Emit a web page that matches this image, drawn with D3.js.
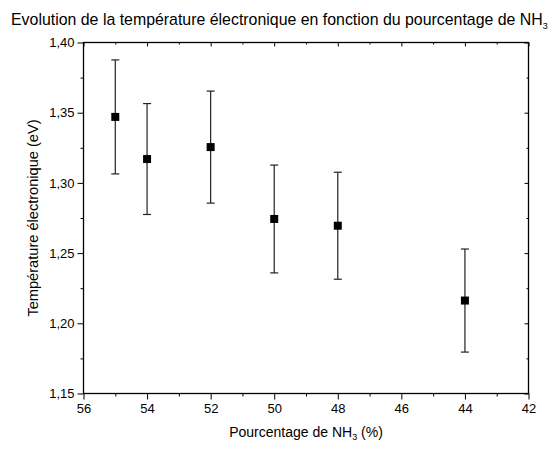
<!DOCTYPE html>
<html>
<head>
<meta charset="utf-8">
<script src="https://cdn.jsdelivr.net/npm/d3@7"></script>
<style>
  html, body { margin: 0; padding: 0; background: #fff; }
  svg { display: block; font-family: "Liberation Sans", Arial, sans-serif; }
</style>
</head>
<body>
<svg id="chart" width="559" height="450"></svg>
<script>
// Pourcentage de NH3 (%) and mean electron temperature (eV) with error bars
const nh3Percent = [55, 54, 52, 50, 48, 44];
const electronTemp = [1.347, 1.317, 1.3255, 1.2743, 1.2695, 1.2162];
const tempError = [0.0406, 0.0395, 0.0399, 0.0384, 0.0381, 0.0367];

const xTicks = [56, 54, 52, 50, 48, 46, 44, 42];
const yTicks = [1.15, 1.20, 1.25, 1.30, 1.35, 1.40];
const xMinorTicks = [55, 53, 51, 49, 47, 45, 43];
const yMinorTicks = [1.175, 1.225, 1.275, 1.325, 1.375];

const svg = d3.select("#chart");
const plotLeft = 83.5, plotRight = 528.5, plotTop = 42.5, plotBottom = 393.5;

const x = d3.scaleLinear().domain([56, 42]).range([plotLeft, plotRight]);
const y = d3.scaleLinear().domain([1.15, 1.40]).range([plotBottom, plotTop]);

const fmt = d => d3.format(".2f")(d).replace(".", ",");

// Frame
svg.append("rect")
  .attr("x", plotLeft).attr("y", plotTop)
  .attr("width", plotRight - plotLeft).attr("height", plotBottom - plotTop)
  .attr("fill", "none").attr("stroke", "#000").attr("stroke-width", 1.3);

// Bottom axis (outward ticks)
const xAxis = svg.append("g").attr("transform", `translate(0,${plotBottom})`)
  .call(d3.axisBottom(x).tickValues(xTicks).tickFormat(d3.format("d")).tickSize(6).tickPadding(4));
xAxis.append("g").call(d3.axisBottom(x).tickValues(xMinorTicks).tickFormat("").tickSize(3));

// Left axis (outward ticks)
const yAxis = svg.append("g").attr("transform", `translate(${plotLeft},0)`)
  .call(d3.axisLeft(y).tickValues(yTicks).tickFormat(fmt).tickSize(6).tickPadding(3));
yAxis.append("g").call(d3.axisLeft(y).tickValues(yMinorTicks).tickFormat("").tickSize(3));

// Top and right axes (inward ticks, no labels)
svg.append("g").attr("transform", `translate(0,${plotTop})`)
  .call(d3.axisBottom(x).tickValues(xTicks).tickFormat("").tickSize(4))
  .append("g").call(d3.axisBottom(x).tickValues(xMinorTicks).tickFormat("").tickSize(2));
svg.append("g").attr("transform", `translate(${plotRight},0)`)
  .call(d3.axisLeft(y).tickValues(yTicks).tickFormat("").tickSize(4))
  .append("g").call(d3.axisLeft(y).tickValues(yMinorTicks).tickFormat("").tickSize(2));

svg.selectAll(".domain").attr("stroke", "none");
svg.selectAll(".tick line").attr("stroke", "#000").attr("stroke-width", 1);
svg.selectAll(".tick text").attr("font-size", 13).attr("fill", "#000")
  .attr("font-family", "Liberation Sans, Arial, sans-serif");

// Data points
const pts = nh3Percent.map((p, i) => ({ p, t: electronTemp[i], e: tempError[i] }));
const eb = svg.append("g").attr("stroke", "#222").attr("stroke-width", 1.2);
eb.selectAll("line.v").data(pts).join("line").attr("class", "v")
  .attr("x1", d => x(d.p)).attr("x2", d => x(d.p))
  .attr("y1", d => y(d.t + d.e)).attr("y2", d => y(d.t - d.e));
eb.selectAll("line.capT").data(pts).join("line").attr("class", "capT")
  .attr("x1", d => x(d.p) - 4).attr("x2", d => x(d.p) + 4)
  .attr("y1", d => y(d.t + d.e)).attr("y2", d => y(d.t + d.e));
eb.selectAll("line.capB").data(pts).join("line").attr("class", "capB")
  .attr("x1", d => x(d.p) - 4).attr("x2", d => x(d.p) + 4)
  .attr("y1", d => y(d.t - d.e)).attr("y2", d => y(d.t - d.e));

svg.append("g").selectAll("rect").data(pts).join("rect")
  .attr("x", d => x(d.p) - 4).attr("y", d => y(d.t) - 4)
  .attr("width", 8).attr("height", 8).attr("fill", "#000");

// Titles
const title = svg.append("text").attr("x", 11).attr("y", 25)
  .attr("font-size", 15.9).attr("fill", "#000");
title.append("tspan").text("Evolution de la température électronique en fonction du pourcentage de NH");
title.append("tspan").attr("font-size", 9).attr("dy", 4).text("3");

const xl = svg.append("text").attr("x", 306).attr("y", 437)
  .attr("text-anchor", "middle").attr("font-size", 14).attr("fill", "#000");
xl.append("tspan").text("Pourcentage de NH");
xl.append("tspan").attr("font-size", 9).attr("dy", 3).text("3");
xl.append("tspan").attr("dy", -3).text(" (%)");

svg.append("text")
  .attr("transform", `translate(38,${(plotTop + plotBottom) / 2}) rotate(-90)`)
  .attr("text-anchor", "middle").attr("font-size", 14.6).attr("fill", "#000")
  .text("Température électronique (eV)");
</script>
</body>
</html>
